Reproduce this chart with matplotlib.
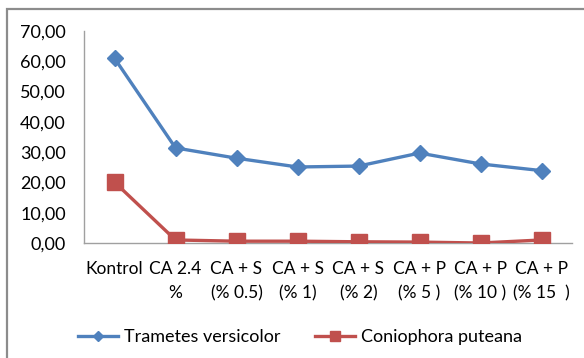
import matplotlib.pyplot as plt
from matplotlib.patches import Rectangle

categories = ["Kontrol", "CA 2.4\n%", "CA + S\n(% 0.5)", "CA + S\n(% 1)", "CA + S\n(% 2)",
              "CA + P\n(% 5 )", "CA + P\n(% 10 )", "CA + P\n(% 15  )"]
trametes = [61.0, 31.4, 28.0, 25.1, 25.4, 29.7, 26.1, 23.9]
coniophora = [20.1, 1.0, 0.6, 0.6, 0.4, 0.3, 0.0, 1.0]
yticks = [0, 10, 20, 30, 40, 50, 60, 70]

plt.rcParams['font.family'] = ['Lato', 'DejaVu Sans']

fig = plt.figure(figsize=(5.84, 3.58), dpi=100)
ax = fig.add_axes([84 / 584, 1 - 243 / 358, 488 / 584, 212 / 358])

# outer chart frame (right and bottom edges fall outside the image)
fig.patches.append(Rectangle((7 / 584, -0.2), 1.2, 1.2 - 9 / 358,
                             transform=fig.transFigure, fill=False,
                             edgecolor="#8c8c8c", linewidth=1.6))

x = range(len(categories))
ax.plot(x, trametes, color="#4F81BD", linewidth=2.4, marker="D", markersize=8,
        label="Trametes versicolor", zorder=3)
ax.plot(x, coniophora, color="#C0504D", linewidth=2.4, marker="s", markersize=11,
        label="Coniophora puteana", zorder=3)

ax.set_xlim(-0.5, len(categories) - 0.5)
ax.set_ylim(0, 70)
ax.set_yticks(yticks)
ax.set_yticklabels(["%d,00" % v for v in yticks])
ax.set_xticks(list(x))
ax.set_xticklabels(categories, linespacing=1.6, va="top")
ax.tick_params(axis="both", length=0, colors="black")
ax.tick_params(axis="y", pad=13, labelsize=13)
ax.tick_params(axis="x", pad=13, labelsize=12.5)

for side in ["top", "right"]:
    ax.spines[side].set_visible(False)
for side in ["left", "bottom"]:
    ax.spines[side].set_color("#a0a0a0")
    ax.spines[side].set_linewidth(1.0)

fig.legend(loc="center", bbox_to_anchor=(300 / 584, 1 - 337 / 358), ncol=2, frameon=False,
           fontsize=13, handlelength=2.2, columnspacing=1.9, handletextpad=0.35,
           markerscale=0.7)

fig.savefig("out.png", dpi=100)
